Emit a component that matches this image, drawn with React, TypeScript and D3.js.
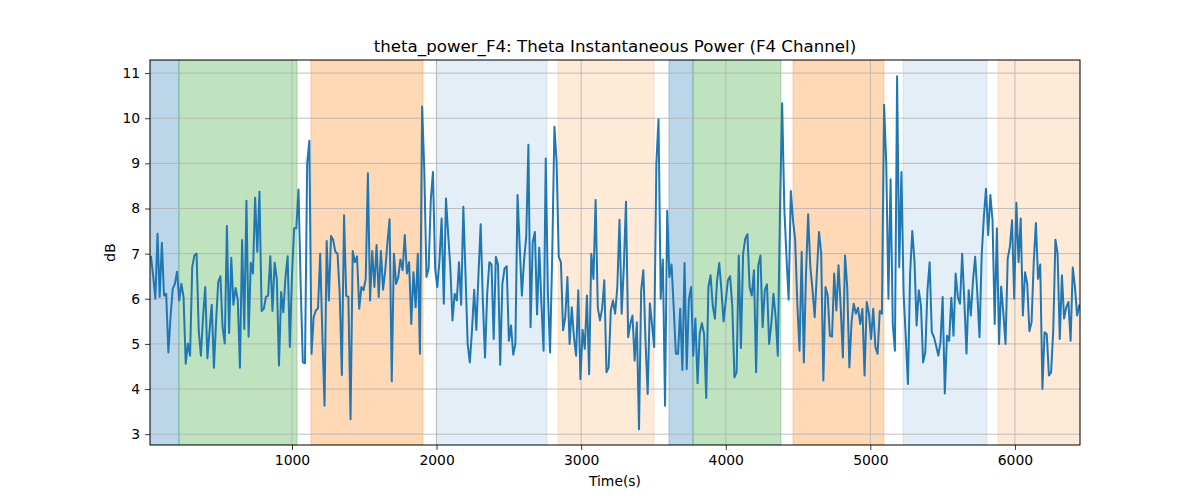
import React, { useEffect, useRef } from "react";
import * as d3 from "d3";

// ---- data ----
const T0 = 25;
const DT = 15;
const values: number[] = [
  // 25 .. 655
  6.93, 6.5, 6.0, 7.44, 6.04, 7.24, 6.07, 6.11, 4.81, 5.59, 6.22, 6.33, 6.6, 5.96, 6.33, 6.04, 4.56, 5.01, 4.74, 6.7, 6.96, 7.0, 5.3, 4.74, 5.6, 6.26, 4.68, 5.3, 5.87, 4.47, 5.5, 6.37, 6.5, 5.37, 5.01, 7.61, 5.24, 6.91, 5.87, 6.24, 5.98, 4.47, 7.3,
  // next segment
  5.33, 8.17, 5.16, 6.8, 6.56, 8.24, 7.04, 8.37, 5.73, 5.78, 6.04, 6.07, 6.94, 5.73, 6.8, 6.44, 4.52, 6.15, 5.7, 6.48, 6.94, 4.93, 6.52, 7.56, 7.56, 8.42, 6.3, 4.59, 4.57, 9.0, 9.5, 4.78, 5.59, 5.74, 5.79, 7.0, 5.22, 3.63, 7.28, 5.96, 7.39, 7.3, 7.04,
  7.0, 6.11, 4.31, 7.85, 6.07, 6.04, 3.33, 7.06, 6.81, 6.94, 5.78, 6.26, 6.19, 6.44, 8.78, 5.96, 7.06, 6.26, 7.19, 6.04, 7.06, 6.2, 6.63, 7.24, 7.76, 4.17, 7.0, 6.33, 6.48, 6.87, 6.63, 7.41, 6.56, 6.81, 5.44, 6.59, 5.81, 7.0, 4.78, 10.26, 8.85, 6.48, 6.67,
  8.19, 8.81, 6.67, 6.26, 6.85, 7.78, 5.89, 8.22, 7.44, 6.7, 5.52, 6.11, 5.96, 6.81, 5.87, 8.04, 6.56, 5.0, 4.59, 5.3, 6.2, 5.31, 6.56, 7.65, 5.96, 4.7, 6.11, 6.81, 6.76, 5.11, 6.93, 6.76, 4.54, 6.33, 6.67, 6.72, 5.07, 5.41, 4.76, 5.0, 8.3, 7.15, 6.07,
  6.85, 7.37, 9.41, 5.37, 7.26, 7.48, 5.65, 7.13, 5.89, 4.85, 9.11, 6.11, 4.81, 7.0, 9.81, 9.04, 6.93, 6.81, 5.3, 5.59, 6.48, 5.0, 5.81, 5.15, 4.74, 6.19, 4.22, 5.31, 4.89, 6.07, 4.33, 7.0, 6.44, 8.19, 5.81, 5.52, 5.78, 6.41, 4.37, 4.48, 5.74, 5.96,
  5.67, 6.26, 7.75, 5.67, 6.7, 8.15, 5.15, 5.44, 5.63, 4.63, 5.48, 3.11, 6.19, 6.63, 5.07, 3.89, 5.9, 5.44, 4.93, 9.0, 9.98, 6.0, 6.87, 3.63, 7.95, 6.48, 6.76, 5.81, 4.78, 4.78, 5.78, 4.42, 6.79, 4.44, 5.98, 6.26, 4.74, 5.56, 4.13, 5.24, 5.46, 5.22, 3.8,
  6.26, 6.52, 5.85, 5.56, 6.41, 6.79, 6.19, 5.5, 5.96, 6.41, 6.5, 5.85, 4.26, 4.37, 6.96, 4.91, 7.0, 7.33, 7.43, 6.26, 6.07, 6.63, 4.37, 6.74, 6.96, 5.37, 6.19, 6.32, 5.0, 5.44, 6.11, 5.59, 4.74, 7.96, 10.33, 8.0, 6.93, 5.98, 8.39, 7.74, 7.3, 5.89, 4.85,
  7.04, 4.59, 6.56, 7.87, 6.7, 6.19, 5.59, 6.56, 7.48, 7.0, 4.19, 6.26, 6.07, 5.18, 5.16, 6.56, 5.74, 6.74, 5.81, 4.7, 6.96, 6.26, 4.48, 5.48, 5.89, 5.67, 5.8, 5.44, 5.78, 4.3, 5.93, 5.67, 5.11, 5.78, 4.93, 4.78, 5.73, 5.67, 10.3, 9.0, 6.0, 8.65, 5.44,
  4.85, 10.93, 6.7, 8.81, 6.11, 5.15, 4.11, 6.56, 7.5, 6.85, 5.41, 6.19, 5.85, 4.59, 4.81, 6.19, 6.81, 5.26, 5.15, 4.96, 4.74, 5.04, 6.04, 3.9, 5.18, 5.07, 6.02, 5.18, 6.56, 6.04, 5.89, 7.0, 5.96, 4.79, 6.19, 5.63, 6.41, 6.93, 6.11, 5.15, 6.96, 7.81, 8.44,
  7.41, 8.3, 7.74, 5.44, 7.56, 5.0, 6.27, 5.67, 5.0, 6.89, 7.15, 7.74, 6.0, 8.13, 6.81, 7.78, 5.63, 6.59, 6.33, 5.28, 5.48, 6.81, 7.68, 6.44, 6.76, 4.0, 5.26, 5.22, 4.3, 4.37, 5.3, 7.31, 7.0, 5.11, 6.52, 5.56, 5.81, 5.93, 5.07, 6.69, 6.26, 5.63, 5.85,
];

const bandStarts = [18, 218, 1131, 1996, 2840, 3607, 3773, 4465, 5226, 5883];
const bandEnds = [218, 1035, 1906, 2764, 3504, 3773, 4382, 5094, 5807, 6450];
const bandColors = ["#1f77b4", "#2ca02c", "#ff7f0e", "#1f77b4", "#ff7f0e", "#1f77b4", "#2ca02c", "#ff7f0e", "#1f77b4", "#ff7f0e"];
const bandAlphas = [0.3, 0.3, 0.3, 0.12, 0.16, 0.3, 0.3, 0.3, 0.12, 0.16];

const xTicks = [1000, 2000, 3000, 4000, 5000, 6000];
const yTicks = [3, 4, 5, 6, 7, 8, 9, 10, 11];
const xDomain = [18, 6450];
const yDomain = [2.76, 11.29];

const title = "theta_power_F4: Theta Instantaneous Power (F4 Channel)";
const xLabel = "Time(s)";
const yLabel = "dB";

const W = 1200, H = 500;
const M = { left: 150, right: 1080, top: 60, bottom: 445 };
const FONT = "'DejaVu Sans', sans-serif";

export default function App() {
  const ref = useRef<SVGSVGElement>(null);
  useEffect(() => {
    const svg = d3.select(ref.current);
    svg.selectAll("*").remove();
    const x = d3.scaleLinear().domain(xDomain).range([M.left, M.right]);
    const y = d3.scaleLinear().domain(yDomain).range([M.bottom, M.top]);

    svg.append("rect").attr("width", W).attr("height", H).attr("fill", "#fff");

    const clipId = "plotclip";
    svg.append("clipPath").attr("id", clipId).append("rect")
      .attr("x", M.left).attr("y", M.top).attr("width", M.right - M.left).attr("height", M.bottom - M.top);

    const plot = svg.append("g").attr("clip-path", `url(#${clipId})`);

    // bands
    bandStarts.forEach((s, i) => {
      plot.append("rect")
        .attr("x", x(s)).attr("y", M.top)
        .attr("width", x(bandEnds[i]) - x(s)).attr("height", M.bottom - M.top)
        .attr("fill", bandColors[i]).attr("fill-opacity", bandAlphas[i])
        .attr("stroke", bandColors[i]).attr("stroke-opacity", bandAlphas[i]).attr("stroke-width", 1);
    });

    // grid
    xTicks.forEach((t) => {
      plot.append("line").attr("x1", x(t)).attr("x2", x(t)).attr("y1", M.top).attr("y2", M.bottom)
        .attr("stroke", "#b0b0b0").attr("stroke-width", 0.8);
    });
    yTicks.forEach((t) => {
      plot.append("line").attr("x1", M.left).attr("x2", M.right).attr("y1", y(t)).attr("y2", y(t))
        .attr("stroke", "#b0b0b0").attr("stroke-width", 0.8);
    });

    // line
    const pts: [number, number][] = values.map((v, i) => [T0 + i * DT, v]);
    const line = d3.line<[number, number]>().x((d) => x(d[0])).y((d) => y(d[1]));
    plot.append("path").attr("d", line(pts) as string).attr("fill", "none")
      .attr("stroke", "#1f77b4").attr("stroke-width", 2).attr("stroke-linejoin", "round").attr("stroke-linecap", "square");

    // frame
    svg.append("rect").attr("x", M.left).attr("y", M.top).attr("width", M.right - M.left).attr("height", M.bottom - M.top)
      .attr("fill", "none").attr("stroke", "#000").attr("stroke-width", 1);

    // axes
    const xa = d3.axisBottom(x).tickValues(xTicks).tickSize(4.9).tickPadding(4.9).tickFormat(d3.format("d"));
    const gx = svg.append("g").attr("transform", `translate(0,${M.bottom})`).call(xa);
    const ya = d3.axisLeft(y).tickValues(yTicks).tickSize(4.9).tickPadding(4.9).tickFormat(d3.format("d"));
    const gy = svg.append("g").attr("transform", `translate(${M.left},0)`).call(ya);
    [gx, gy].forEach((g) => {
      g.select(".domain").remove();
      g.selectAll("text").attr("font-family", FONT).attr("font-size", 13.9).attr("fill", "#000");
      g.selectAll("line").attr("stroke", "#000").attr("stroke-width", 0.8);
    });

    svg.append("text").attr("x", (M.left + M.right) / 2).attr("y", 52).attr("text-anchor", "middle")
      .attr("font-family", FONT).attr("font-size", 16.67).text(title);
    svg.append("text").attr("x", (M.left + M.right) / 2).attr("y", 486).attr("text-anchor", "middle")
      .attr("font-family", FONT).attr("font-size", 13.9).text(xLabel);
    svg.append("text").attr("transform", `translate(115,${(M.top + M.bottom) / 2}) rotate(-90)`).attr("text-anchor", "middle")
      .attr("font-family", FONT).attr("font-size", 13.9).text(yLabel);
  }, []);
  return <svg ref={ref} width={W} height={H} style={{ position: "absolute", left: 0, top: 0 }} />;
}
